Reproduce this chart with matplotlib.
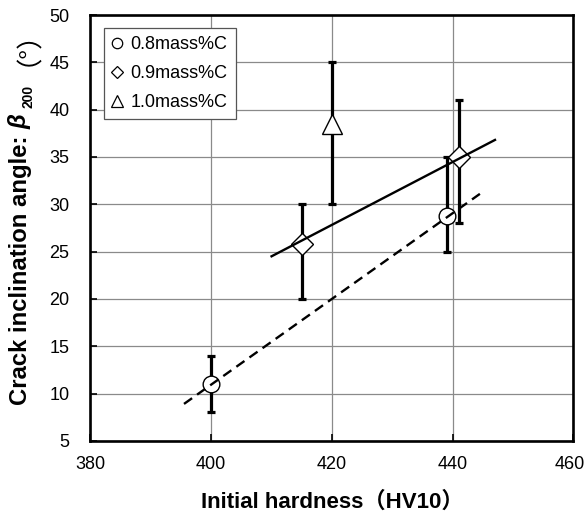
import matplotlib
matplotlib.use("Agg")
import matplotlib.pyplot as plt
import matplotlib.transforms as mtransforms
from matplotlib.lines import Line2D

plt.rcParams['font.family'] = ['Liberation Sans', 'Noto Sans CJK JP', 'DejaVu Sans']

# Data
series_labels = ["0.8mass%C", "0.9mass%C", "1.0mass%C"]
hard_08 = [400, 439]
beta_08 = [11.0, 28.8]
lo_08 = [8, 25]
hi_08 = [14, 35]

hard_09 = [415, 441]
beta_09 = [25.8, 35.0]
lo_09 = [20, 28]
hi_09 = [30, 41]

hard_10 = [420]
beta_10 = [38.5]
lo_10 = [30]
hi_10 = [45]

fit_solid_x = [410, 447]
fit_solid_y = [24.5, 36.8]
fit_dash_x = [395.5, 444.5]
fit_dash_y = [8.9, 31.1]

xticks = [380, 400, 420, 440, 460]
yticks = [5, 10, 15, 20, 25, 30, 35, 40, 45, 50]

fig = plt.figure(figsize=(5.87, 5.18), dpi=100)
ax = fig.add_axes([0.154, 0.149, 0.823, 0.822])

markers = ['o', 'D', '^']
msizes = [12, 11, 14]
data = [(hard_08, beta_08, lo_08, hi_08), (hard_09, beta_09, lo_09, hi_09), (hard_10, beta_10, lo_10, hi_10)]
for (x, y, lo, hi), m, ms in zip(data, markers, msizes):
    yerr = [[yy - l for yy, l in zip(y, lo)], [h - yy for yy, h in zip(y, hi)]]
    ax.errorbar(x, y, yerr=yerr, fmt='none', ecolor='black', elinewidth=2.3,
                capsize=2.8, capthick=2.3, zorder=3)
    ax.plot(x, y, linestyle='none', marker=m, markersize=ms, markerfacecolor='white',
            markeredgecolor='black', markeredgewidth=1.0, zorder=4)

ax.plot(fit_solid_x, fit_solid_y, color='black', lw=1.7, zorder=5)
ax.plot(fit_dash_x, fit_dash_y, color='black', lw=1.7, linestyle=(0, (4.2, 2.6)), zorder=5)

ax.set_xlim(380, 460)
ax.set_ylim(5, 50)
ax.set_xticks(xticks)
ax.set_yticks(yticks)
ax.grid(True, color='#8a8a8a', lw=0.9)
ax.set_axisbelow(True)
ax.tick_params(direction='in', length=5, width=1.2, labelsize=13, colors='black')
ax.tick_params(axis='x', pad=11)
ax.tick_params(axis='y', pad=15)
for s in ax.spines.values():
    s.set_linewidth(1.9)

last = ax.get_xticklabels()[-1]
last.set_transform(last.get_transform() + mtransforms.ScaledTranslation(-4 / 100, 0, fig.dpi_scale_trans))

ax.set_xlabel('Initial hardness（HV10）', fontsize=16, fontweight='bold')
ax.xaxis.set_label_coords(0.5, -0.118)

# y label composed of pieces (bold text, bold-italic beta, subscript, full-width parens)
t1 = fig.text(32 / 587, 1 - 405 / 518, 'Crack inclination angle: ', rotation=90,
              ha='right', va='bottom', fontsize=17.2, fontweight='bold')
t2 = ax.annotate('β', xy=(1, 1), xycoords=t1, xytext=(0, 0), textcoords='offset points',
                 rotation=90, ha='right', va='bottom', fontsize=17.2, fontweight='bold',
                 fontstyle='italic', annotation_clip=False)
t3 = ax.annotate('200', xy=(1, 1), xycoords=t2, xytext=(2.2, 4), textcoords='offset points',
                 rotation=90, ha='right', va='bottom', fontsize=10, fontweight='bold',
                 annotation_clip=False)
t4 = ax.annotate('（°）', xy=(1, 1), xycoords=t3, xytext=(-5, 14), textcoords='offset points',
                 rotation=90, ha='right', va='bottom', fontsize=19,
                 family=['Noto Sans CJK JP'], annotation_clip=False)

handles = [Line2D([], [], linestyle='none', marker=m, markersize=ms, markerfacecolor='white',
                  markeredgecolor='black', markeredgewidth=0.9)
           for m, ms in zip(['o', 'D', '^'], [7.5, 6, 8])]
leg = ax.legend(handles, series_labels, loc='upper left', bbox_to_anchor=(0.028, 0.970),
                fontsize=13, handlelength=0.6, handletextpad=0.42, labelspacing=0.67,
                borderpad=0.45, borderaxespad=0, fancybox=False, edgecolor='#555555',
                framealpha=1)
leg.get_frame().set_linewidth(0.9)

fig.savefig('out.png', dpi=100)
